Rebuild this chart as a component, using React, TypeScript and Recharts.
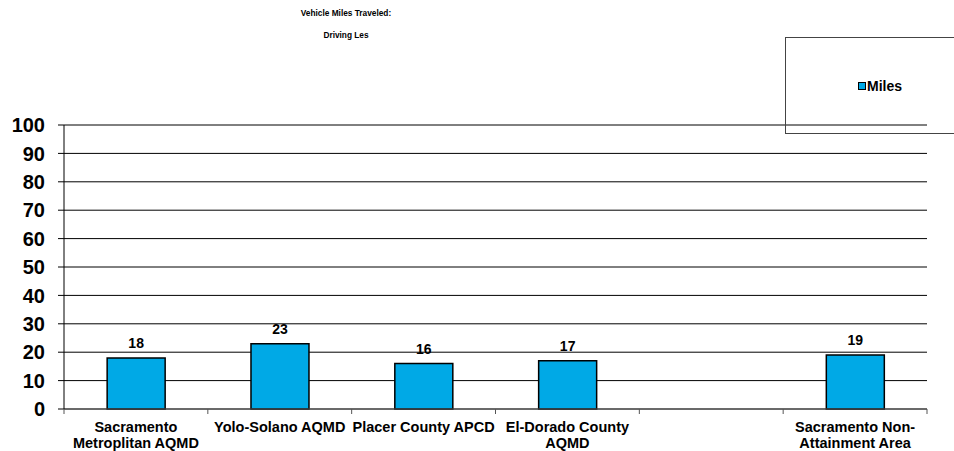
import { BarChart, Bar, XAxis, YAxis, CartesianGrid, Legend, LabelList } from 'recharts'

const categories = [
  'Sacramento\nMetroplitan AQMD',
  'Yolo-Solano AQMD',
  'Placer County APCD',
  'El-Dorado County\nAQMD',
  '',
  'Sacramento Non-\nAttainment Area',
]
const miles: (number | null)[] = [18, 23, 16, 17, null, 19]
const yTicks = [0, 10, 20, 30, 40, 50, 60, 70, 80, 90, 100]
const titleLines = ['Vehicle Miles Traveled:', 'Driving Les']
const seriesName = 'Miles'

const FONT = '"Liberation Sans", Arial, sans-serif'
const BAR_FILL = '#00A9E6'

const data = categories.map((name, i) => ({ name, miles: miles[i] }))

function CategoryTick(props: any) {
  const { x, y, payload, index, visibleTicksCount } = props
  const half = payload?.offset ?? 72
  const lines = String(payload.value).split('\n')
  const isLast = index === visibleTicksCount - 1
  return (
    <g>
      <line x1={x - half} x2={x - half} y1={y} y2={y + 5} stroke="#555" />
      {isLast && <line x1={x + half} x2={x + half} y1={y} y2={y + 5} stroke="#555" />}
      {lines.map((l, i) => (
        <text
          key={i}
          x={x}
          y={y + 23 + i * 16}
          textAnchor="middle"
          fontFamily={FONT}
          fontWeight="bold"
          fontSize={14.5}
          fill="#000"
        >
          {l}
        </text>
      ))}
    </g>
  )
}

function LegendBox() {
  return (
    <div
      style={{
        width: 200,
        height: 97,
        borderTop: '1px solid #444',
        borderLeft: '1px solid #444',
        borderBottom: '1px solid #444',
        boxSizing: 'border-box',
        display: 'flex',
        alignItems: 'center',
        paddingLeft: 72,
        fontFamily: FONT,
        fontWeight: 'bold',
        fontSize: 14,
        color: '#000',
      }}
    >
      <span
        style={{
          display: 'inline-block',
          width: 6,
          height: 6,
          background: BAR_FILL,
          border: '1px solid #000',
          marginRight: 1,
        }}
      />
      {seriesName}
    </div>
  )
}

export default function App() {
  return (
    <div style={{ position: 'absolute', left: 0, top: 0, width: 954, height: 451, background: '#fff', overflow: 'hidden' }}>
      <div
        style={{
          position: 'absolute',
          left: 246,
          width: 200,
          top: 8,
          textAlign: 'center',
          fontFamily: FONT,
          fontWeight: 'bold',
          fontSize: 8.3,
          zIndex: 2,
        }}
      >
        {titleLines.map((t) => (
          <div key={t} style={{ height: 22, lineHeight: '11px' }}>{t}</div>
        ))}
      </div>
      <BarChart
        width={954}
        height={451}
        data={data}
        margin={{ top: 125, right: 27, bottom: 0, left: 0 }}
        barCategoryGap="30%"
      >
        <CartesianGrid vertical={false} stroke="#000" />
        <XAxis
          dataKey="name"
          interval={0}
          tickLine={false}
          tickSize={0}
          tickMargin={0}
          height={42}
          axisLine={{ stroke: '#555' }}
          tick={<CategoryTick />}
        />
        <YAxis
          domain={[0, 100]}
          ticks={yTicks}
          interval={0}
          width={64}
          tickSize={6}
          tickMargin={13}
          tickLine={{ stroke: '#000' }}
          axisLine={{ stroke: '#000' }}
          tick={{ fontSize: 20, fontWeight: 'bold', fill: '#000', fontFamily: FONT }}
        />
        <Legend
          layout="horizontal"
          verticalAlign="middle"
          align="center"
          content={<LegendBox />}
          wrapperStyle={{
            position: 'absolute',
            left: 785,
            top: 37,
            width: 200,
            height: 97,
            overflow: 'visible',
          }}
        />
        <Bar
          dataKey="miles"
          name={seriesName}
          fill={BAR_FILL}
          stroke="#000"
          strokeWidth={1.5}
          isAnimationActive={false}
        >
          <LabelList
            dataKey="miles"
            position="top"
            offset={10}
            fill="#000"
            fontSize={14}
            fontWeight="bold"
            fontFamily={FONT}
          />
        </Bar>
      </BarChart>
    </div>
  )
}
